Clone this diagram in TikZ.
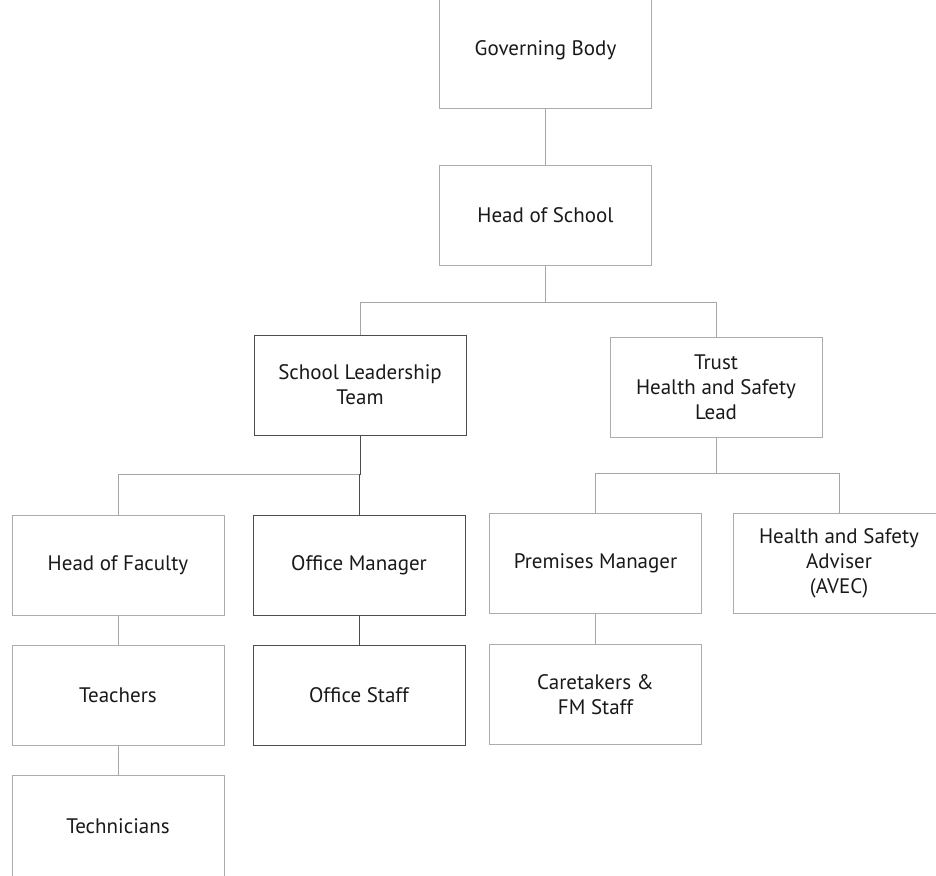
\documentclass[tikz,border=0pt]{standalone}
\usepackage{fontspec}
\setmainfont{PT Sans}
\usetikzlibrary{positioning}
\tikzset{
  box/.style={ % plain role box of the chart
    draw=gray!65, line width=1pt, rectangle,
    minimum width=212pt, minimum height=100pt,
    inner sep=0pt, align=center, text=black!90,
    font=\fontsize{21}{25}\selectfont
  },
  darkbox/.style={ % box with the darker frame
    box, draw=black!70
  },
  link/.style={
    draw=gray!70, line width=1pt
  },
  darklink/.style={
    draw=black!70, line width=1pt
  }
}
\begin{document}
\begin{tikzpicture}[x=1pt,y=-1pt]
  \useasboundingbox (0,0) rectangle (936,875);

  % top of the chart
  \node[box, minimum height=116pt] (gov) at (545.5,50) {Governing Body};
  \node[box] (hos) at (545.5,215) {Head of School};

  % second level
  \node[darkbox] (slt) at (360,385) {School Leadership\\Team};
  \node[box] (trust) at (716,387) {Trust\\Health and Safety\\Lead};

  % school side
  \node[box] (hof) at (118,565) {Head of Faculty};
  \node[darkbox] (om) at (359,565) {Office Manager};
  \node[box] (teach) at (118,695) {Teachers};
  \node[darkbox] (ostaff) at (359,695) {Office Staff};
  \node[box, minimum height=102pt] (tech) at (118,826) {Technicians};

  % trust side
  \node[box] (pm) at (595.5,563.5) {Premises Manager};
  \node[box] (hsa) at (839,563.5) {Health and Safety\\Adviser\\(AVEC)};
  \node[box] (care) at (595.5,694.5) {Caretakers \&\\FM Staff};

  % connectors
  \draw[link] (gov) -- (hos);
  \draw[link] (hos.south) -- ++(0,37) coordinate (hosbar);
  \draw[link] (slt.north) |- (hosbar) -| (trust.north);

  \draw[darklink] (slt.south) -- ++(0,39) coordinate (sltbar);
  \draw[link] (hof.north) |- (sltbar);
  \draw[darklink] (sltbar) -| (om.north);
  \draw[link] (hof) -- (teach);
  \draw[link] (teach) -- (tech);
  \draw[darklink] (om) -- (ostaff);

  \draw[link] (trust.south) -- ++(0,36) coordinate (trustbar);
  \draw[link] (pm.north) |- (trustbar) -| (hsa.north);
  \draw[link] (pm) -- (care);
\end{tikzpicture}
\end{document}
